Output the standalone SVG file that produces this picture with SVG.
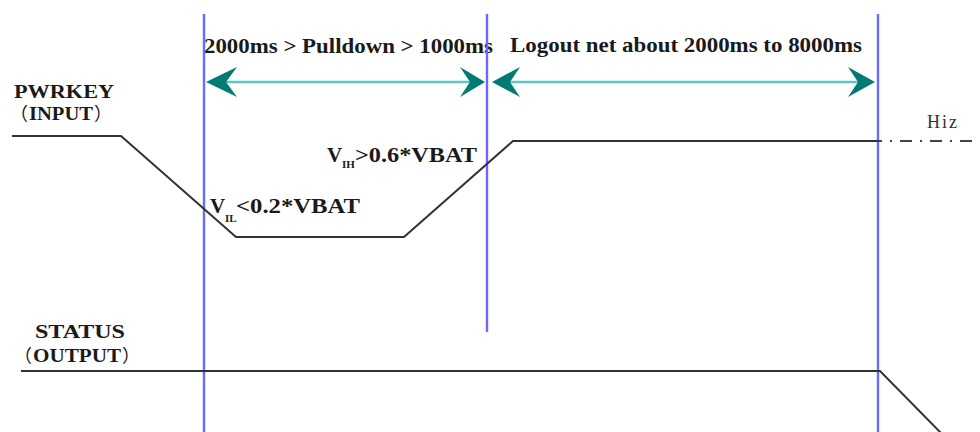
<svg xmlns="http://www.w3.org/2000/svg" width="980" height="432" viewBox="0 0 980 432">
<style>
.t{font-family:"Liberation Serif","Noto Sans CJK SC",serif;font-weight:bold;fill:#1a1a1a}
.p{font-family:"Noto Sans CJK SC",sans-serif;font-weight:normal}
.sub{font-family:"Liberation Serif",serif;font-weight:bold;fill:#1a1a1a;font-size:11px}
.marker{stroke:#6a6aff;stroke-width:2.4;fill:none}
.wave{stroke:#333;stroke-width:2;fill:none}
.dim{stroke:#5cc8c0;stroke-width:2.5}
.head{fill:#007a72}
</style>
<rect width="980" height="432" fill="#fff"/>
<g id="labels">
<text class="t" x="14" y="98" font-size="19" textLength="100" lengthAdjust="spacingAndGlyphs">PWRKEY</text>
<text class="t" x="10" y="120" font-size="18"><tspan class="p">（</tspan><tspan x="29" textLength="64" lengthAdjust="spacingAndGlyphs">INPUT</tspan><tspan class="p" x="94">）</tspan></text>
<text class="t" x="35" y="338" font-size="19" textLength="90" lengthAdjust="spacingAndGlyphs">STATUS</text>
<text class="t" x="14" y="362" font-size="18"><tspan class="p">（</tspan><tspan x="33" textLength="88" lengthAdjust="spacingAndGlyphs">OUTPUT</tspan><tspan class="p" x="122">）</tspan></text>
<text class="t" x="204" y="53" font-size="21" textLength="289" lengthAdjust="spacingAndGlyphs">2000ms &gt; Pulldown &gt; 1000ms</text>
<text class="t" x="510" y="52" font-size="21" textLength="352" lengthAdjust="spacingAndGlyphs">Logout net about 2000ms to 8000ms</text>
<g id="vih"><text class="t" x="327" y="162" font-size="21">V</text><text class="sub" x="342" y="168">IH</text><text class="t" x="355" y="162" font-size="20" textLength="122" lengthAdjust="spacingAndGlyphs">&gt;0.6*VBAT</text></g>
<g id="vil"><text class="t" x="210" y="213" font-size="21">V</text><text class="sub" x="225" y="222">IL</text><text class="t" x="236" y="213" font-size="20" textLength="124" lengthAdjust="spacingAndGlyphs">&lt;0.2*VBAT</text></g>
<text x="927" y="128" font-family="'Liberation Serif',serif" font-size="18" fill="#333" letter-spacing="2">Hiz</text>
</g>
<g id="markers">
<line class="marker" x1="204" y1="14" x2="204" y2="432"/>
<line class="marker" x1="487" y1="14" x2="487" y2="332"/>
<line class="marker" x1="878" y1="14" x2="878" y2="432"/>
</g>
<g id="connectors">
<g id="arrow-pulldown">
<line class="dim" x1="220" y1="82" x2="470" y2="82"/>
<path class="head" d="M206,82 L237,67 L226,82 L237,97 Z"/>
<path class="head" d="M485,82 L460,67 L470,82 L460,97 Z"/>
</g>
<g id="arrow-logout">
<line class="dim" x1="505" y1="82" x2="862" y2="82"/>
<path class="head" d="M492,82 L520,67 L510,82 L520,97 Z"/>
<path class="head" d="M875,82 L848,67 L858,82 L848,97 Z"/>
</g>
</g>
<g id="pwrkey-wave">
<polyline class="wave" points="12,136 121,136 236,237 404,237 513,141 878,141"/>
<line x1="878" y1="141" x2="980" y2="141" stroke="#444" stroke-width="2" stroke-dasharray="12 8 2 8" stroke-dashoffset="8"/>
</g>
<g id="status-wave">
<polyline class="wave" points="21,371 880,371 942,434"/>
</g>
</svg>
